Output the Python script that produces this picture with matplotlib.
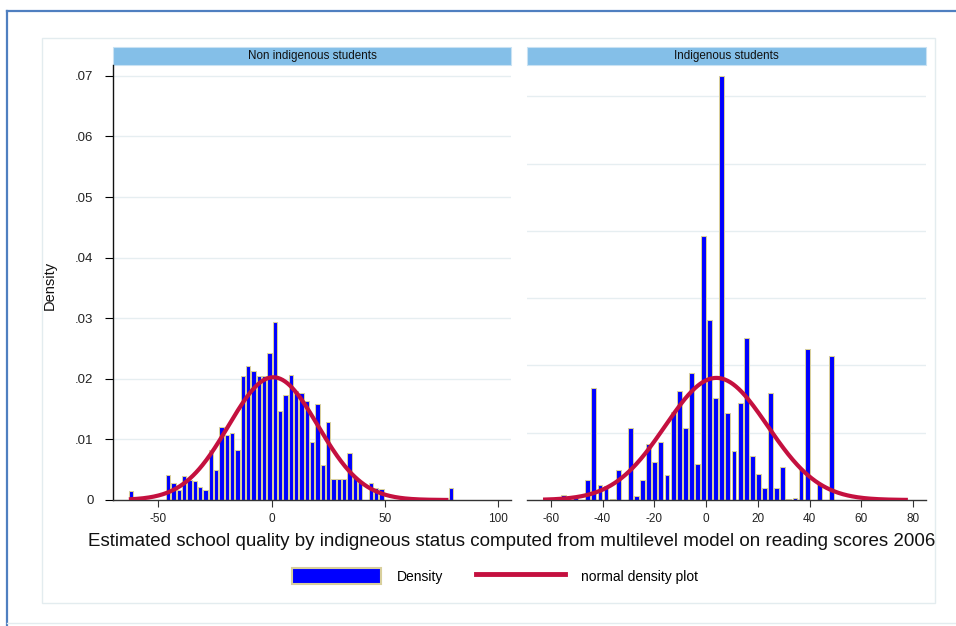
import numpy as np
import matplotlib
matplotlib.use("Agg")
import matplotlib.pyplot as plt
from matplotlib.patches import Rectangle, Patch
from matplotlib.lines import Line2D

plt.rcParams['font.family'] = ['Liberation Sans', 'DejaVu Sans']

# histogram bins shared by both panels (centre of first bin, bin width)
first_center = -62.2
bin_width = 2.355

non_indig_density = [
    0.0015, 0, 0, 0, 0, 0, 0,
    0.0041, 0.0028, 0.0016, 0.0040, 0.0033, 0.0031, 0.0022, 0.0016,
    0.0083, 0.0050, 0.0120, 0.0108, 0.0110, 0.0083, 0.0204, 0.0221,
    0.0213, 0.0205, 0.0205, 0.0243, 0.0293, 0.0147, 0.0174, 0.0206,
    0.0180, 0.0177, 0.0163, 0.0096, 0.0158, 0.0057, 0.0129, 0.0035,
    0.0035, 0.0035, 0.0078, 0.0036, 0.0031, 0, 0.0028, 0.0019, 0.0018,
    0, 0, 0, 0, 0, 0, 0, 0, 0, 0, 0, 0,
    0.0020,
]

indig_density = [
    0, 0, 0, 0.0008, 0, 0.0003, 0,
    0.0033, 0.0185, 0.0024, 0.0023, 0.0002, 0.0049, 0, 0.0119,
    0.0007, 0.0033, 0.0092, 0.0062, 0.0096, 0.0042, 0.0146, 0.0180,
    0.0118, 0.0209, 0.0060, 0.0435, 0.0297, 0.0168, 0.0699, 0.0143,
    0.0081, 0.0160, 0.0267, 0.0072, 0.0043, 0.0019, 0.0177, 0.0019,
    0.0055, 0.0002, 0.0004, 0.0050, 0.0249, 0, 0.0026, 0, 0.0237,
    0, 0, 0, 0, 0, 0, 0, 0, 0, 0, 0, 0, 0,
]

# normal density parameters (mean, sd) and curve range
non_indig_norm = (0.7, 19.7)
indig_norm = (4.0, 19.8)
curve_range = (-63, 78)

panel_titles = ["Non indigenous students", "Indigenous students"]
yticks = [0, 0.01, 0.02, 0.03, 0.04, 0.05, 0.06, 0.07]
ytick_labels = ["0", ".01", ".02", ".03", ".04", ".05", ".06", ".07"]
right_grid = [0.0111, 0.0222, 0.0333, 0.0444, 0.0555, 0.0666]
left_xticks = [-50, 0, 50, 100]
right_xticks = [-60, -40, -20, 0, 20, 40, 60, 80]

W, H = 956, 626
bar_blue = "#0000ff"
bar_edge = "#d8cf9c"
curve_red = "#c4103f"
grid_col = "#e6eef1"
strip_col = "#84bfe8"

fig = plt.figure(figsize=(W / 100, H / 100), dpi=100)
fig.patch.set_facecolor("white")


def px_axes(x0, x1, y0, y1):
    return fig.add_axes([x0 / W, 1 - y1 / H, (x1 - x0) / W, (y1 - y0) / H])


def fig_line(xs, ys, **kw):
    fig.add_artist(Line2D([x / W for x in xs], [1 - y / H for y in ys],
                          transform=fig.transFigure, **kw))


# outer frame and inner box
fig_line([7, 956], [11, 11], color="#4f7fc0", lw=1.6)
fig_line([7, 7], [11, 626], color="#4f7fc0", lw=1.6)
fig_line([7, 956], [623, 623], color="#e3ecef", lw=1.0)
fig.add_artist(Rectangle((42 / W, 1 - 603 / H), (935 - 42) / W, (603 - 38) / H,
                         transform=fig.transFigure, fill=False,
                         edgecolor="#e3ecef", lw=1.0))

ax1 = px_axes(113, 511, 65, 500)
ax2 = px_axes(527, 926, 65, 500)
ymax = (500 - 65) / 60.6 * 0.01

centers = first_center + bin_width * np.arange(len(non_indig_density))

panels = [
    (ax1, non_indig_density, non_indig_norm, (-70.0, 105.6), left_xticks),
    (ax2, indig_density, indig_norm, (-69.2, 85.0), right_xticks),
]

for i, (ax, dens, (mu, sd), xl, xt) in enumerate(panels):
    dens = np.array(dens)
    keep = dens > 0
    ax.bar(centers[keep], dens[keep], width=bin_width * 0.8,
           color=bar_blue, edgecolor=bar_edge, linewidth=0.75, zorder=2)
    xs = np.linspace(curve_range[0], curve_range[1], 400)
    ys = np.exp(-0.5 * ((xs - mu) / sd) ** 2) / (sd * np.sqrt(2 * np.pi))
    ax.plot(xs, ys, color=curve_red, lw=3.0, zorder=3, solid_capstyle="butt")

    ax.set_xlim(*xl)
    ax.set_ylim(0, ymax)
    ax.set_xticks(xt)
    ax.set_xticklabels([str(v) for v in xt], fontsize=8.5, color="#222222")
    ax.tick_params(axis="x", length=5, width=0.8, color="#333333", pad=4)

    for s in ["top", "right"]:
        ax.spines[s].set_visible(False)
    ax.spines["bottom"].set_color("#333333")
    ax.spines["bottom"].set_linewidth(1.0)

    if i == 0:
        ax.set_yticks(yticks)
        ax.set_yticklabels(ytick_labels, fontsize=9.5, color="#222222")
        ax.tick_params(axis="y", length=6, width=0.8, pad=8)
        ax.spines["left"].set_color("#111111")
        ax.spines["left"].set_linewidth(1.0)
        for g in yticks[1:]:
            ax.axhline(g, color=grid_col, lw=1.0, zorder=0)
    else:
        ax.spines["left"].set_visible(False)
        ax.set_yticks([])
        for g in right_grid:
            ax.axhline(g, color=grid_col, lw=1.0, zorder=0)

    # title strip
    ax.add_patch(Rectangle((0, 1.0), 1, 0.041, transform=ax.transAxes,
                           facecolor=strip_col, edgecolor="#c9e2f3", lw=0.8,
                           clip_on=False))
    ax.text(0.5, 1.0205, panel_titles[i], transform=ax.transAxes,
            ha="center", va="center", fontsize=8.4, color="#111111")

fig.text(50 / W, 1 - 285 / H, "Density", rotation=90, ha="center",
         va="center", fontsize=10.5, color="#111111")
fig.text(512 / W, 1 - 541 / H,
         "Estimated school quality by indigneous status computed from "
         "multilevel model on reading scores 2006",
         ha="center", va="center", fontsize=13.5, color="#111111")

handles = [Patch(facecolor=bar_blue, edgecolor=bar_edge, linewidth=1.5),
           Line2D([], [], color=curve_red, lw=3.5)]
fig.legend(handles, ["Density", "normal density plot"], loc="center",
           bbox_to_anchor=(495 / W, 1 - 576 / H), ncol=2, frameon=False,
           fontsize=10, handlelength=6.4, handleheight=1.5,
           handletextpad=1.1, columnspacing=2.4)

fig.savefig("out.png", dpi=100, facecolor="white")
